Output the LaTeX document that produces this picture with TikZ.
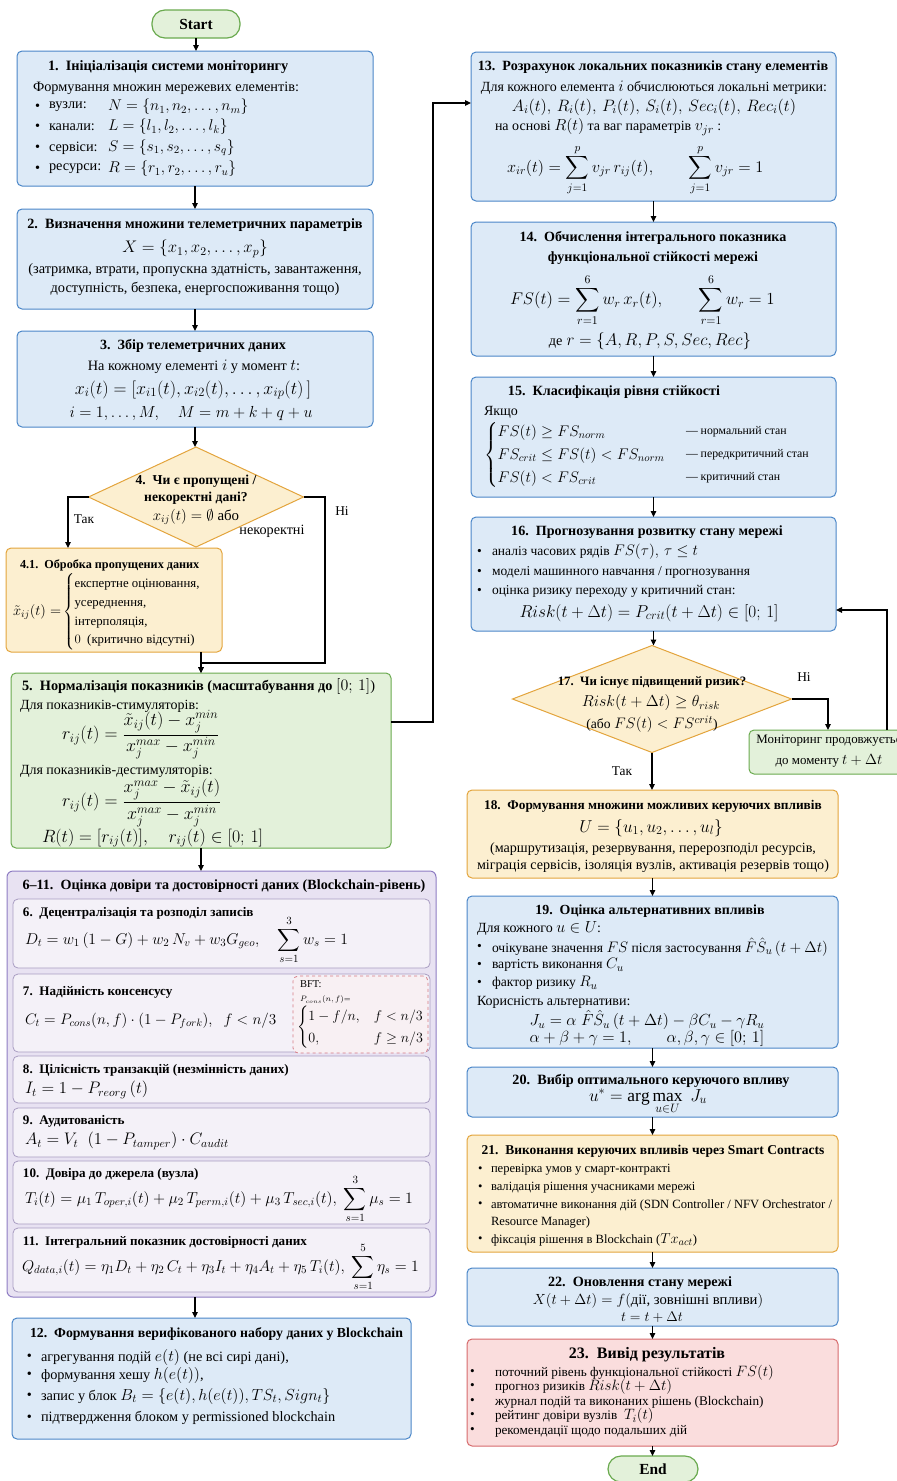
\RequirePackage{fix-cm}
\documentclass[tikz,border=0pt]{standalone}
\usepackage{amsmath,amssymb}
\usepackage{fontspec}
\setmainfont{Liberation Serif}
\usetikzlibrary{shapes.geometric,arrows.meta}
\DeclareMathSizes{14.3}{16}{11.7}{9}
\DeclareMathSizes{14}{16}{11.7}{9}
\DeclareMathSizes{13.6}{15.2}{11.2}{8.5}
\DeclareMathSizes{13.5}{15.3}{11.2}{8.5}
\DeclareMathSizes{13.2}{15}{11}{8.3}
\DeclareMathSizes{12.9}{14.7}{10.8}{8.1}
\DeclareMathSizes{12.6}{14.4}{10.5}{8}
\definecolor{bluefill}{HTML}{DDEAF7}
\definecolor{blueline}{HTML}{4A86C8}
\definecolor{greenfill}{HTML}{E3F1DA}
\definecolor{greenline}{HTML}{6AAA4F}
\definecolor{orangefill}{HTML}{FCEFD0}
\definecolor{orangeline}{HTML}{E3A43C}
\definecolor{purplefill}{HTML}{E8E2F2}
\definecolor{purpleline}{HTML}{8E7CC3}
\definecolor{subfill}{HTML}{F4F1F8}
\definecolor{subline}{HTML}{A99DC2}
\definecolor{redfill}{HTML}{FADDDD}
\definecolor{redline}{HTML}{D66A6C}
\definecolor{bftfill}{HTML}{F8F0F3}
\definecolor{bftline}{HTML}{D67A84}
\newcommand\fs[1]{\fontsize{#1}{#1}\selectfont}
\newcommand\bul[5]{\node[txt,anchor=west,font=\fs{#5}] at (#1,#3) {•}; \node[txt,anchor=west,font=\fs{#5}] at (#2,#3) {#4};}
\begin{document}
\begin{tikzpicture}[x=1pt,y=-1pt,
  txt/.style={inner sep=0pt, outer sep=0pt, font=\fs{14}},
  ttl/.style={txt, font=\fs{14.1}\bfseries},
  sttl/.style={txt, font=\fs{13.1}\bfseries},
  boxbase/.style={draw, rounded corners=5pt, line width=1pt, inner sep=0pt, outer sep=0pt, anchor=north west},
  bluebox/.style={boxbase, draw=blueline, fill=bluefill},
  greenbox/.style={boxbase, draw=greenline, fill=greenfill},
  orangebox/.style={boxbase, draw=orangeline, fill=orangefill},
  redbox/.style={boxbase, draw=redline, fill=redfill},
  grpbox/.style={boxbase, rounded corners=6pt, draw=purpleline, fill=purplefill},
  subbox/.style={boxbase, draw=subline, fill=subfill, line width=0.8pt},
  bftbox/.style={boxbase, draw=bftline, fill=bftfill, dashed, line width=0.8pt},
  decis/.style={diamond, draw=orangeline, fill=orangefill, line width=1pt, inner sep=0pt, outer sep=0pt},
  term/.style={draw=greenline, fill=greenfill, line width=1.2pt, rounded corners=13pt, inner sep=0pt, outer sep=0pt, font=\fs{15.4}\bfseries},
  arr/.style={-{Triangle[length=6pt,width=5.5pt]}, line width=1.1pt, black}
]
\useasboundingbox (0,0) rectangle (897,1481);

% ---------- Start ----------
\node[term, minimum width=88pt, minimum height=28pt] (start) at (196,24) {Start};

% ---------- Box 1 ----------
\node[bluebox, minimum width=356pt, minimum height=135pt] (b1) at (17,51) {};
\node[ttl,anchor=west,font=\fs{14.3}\bfseries] at (48,67) {1.\enspace Ініціалізація системи моніторингу};
\node[txt,anchor=west,font=\fs{14.3}] at (33,88) {Формування множин мережевих елементів:};
\bul{35}{49}{107}{вузли:}{14.3}   \node[txt,anchor=west,font=\fs{15.6}] at (108,107) {$N=\{n_1,n_2,\dots,n_m\}$};
\bul{35}{49}{127}{канали:}{14.3}  \node[txt,anchor=west,font=\fs{15.6}] at (108,127) {$L=\{l_1,l_2,\dots,l_k\}$};
\bul{35}{49}{148}{сервіси:}{14.3} \node[txt,anchor=west,font=\fs{15.6}] at (108,148) {$S=\{s_1,s_2,\dots,s_q\}$};
\bul{35}{49}{169}{ресурси:}{14.3} \node[txt,anchor=west,font=\fs{15.6}] at (108,169) {$R=\{r_1,r_2,\dots,r_u\}$};

% ---------- Box 2 ----------
\node[bluebox, minimum width=356pt, minimum height=100pt] (b2) at (17,209) {};
\node[ttl,font=\fs{14.2}\bfseries] at (195,225) {2.\enspace Визначення множини телеметричних параметрів};
\node[txt,font=\fs{16.8}] at (195,249) {$X=\{x_1,x_2,\dots,x_p\}$};
\node[txt,font=\fs{14.4}] at (195,270) {(затримка, втрати, пропускна здатність, завантаження,};
\node[txt,font=\fs{14.4}] at (195,289) {доступність, безпека, енергоспоживання тощо)};

% ---------- Box 3 ----------
\node[bluebox, minimum width=356pt, minimum height=96pt] (b3) at (17,331) {};
\node[ttl] at (193,346) {3.\enspace Збір телеметричних даних};
\node[txt,font=\fs{14.3}] at (194,367) {На кожному елементі $i$ у момент $t$:};
\node[txt,font=\fs{18}] at (193,390) {$x_i(t)=[x_{i1}(t),x_{i2}(t),\dots,x_{ip}(t)\,]$};
\node[txt,font=\fs{16}] at (191,413) {$i=1,\dots,M,\quad M=m+k+q+u$};

% ---------- Decision 4 ----------
\node[decis, minimum width=215pt, minimum height=100pt] (d4) at (196,497) {};
\node[sttl,font=\fs{13.6}\bfseries] at (196,481) {4.\enspace Чи є пропущені /};
\node[sttl,font=\fs{13.6}\bfseries] at (196,498) {некоректні дані?};
\node[txt,font=\fs{14.9}] at (196,517) {$x_{ij}(t)=\emptyset$ або};
\node[txt,font=\fs{14.2}] at (272,531) {некоректні};
\node[txt,font=\fs{13.4}] at (84,519) {Так};
\node[txt,font=\fs{13.4}] at (342,511) {Ні};

% ---------- Box 4.1 ----------
\node[orangebox, minimum width=216pt, minimum height=104pt] (b41) at (6,548) {};
\node[sttl,anchor=west,font=\fs{12.2}\bfseries] at (20,565) {4.1.\enspace Обробка пропущених даних};
\node[txt,anchor=west,font=\fontsize{12.8}{15.5}\selectfont] at (13,612) {{\fs{14.5}$\tilde{x}_{ij}(t)=$}\,$\begin{cases}\text{експертне оцінювання,}\\ \text{усереднення,}\\ \text{інтерполяція,}\\ 0\ \ \text{(критично відсутні)}\end{cases}$};

% ---------- Box 5 ----------
\node[greenbox, minimum width=380pt, minimum height=175pt] (b5) at (11,673) {};
\node[ttl,anchor=west,font=\fs{14.3}\bfseries] at (22,686) {5.\enspace Нормалізація показників (масштабування до \mdseries$[0;\,1]$)};
\node[txt,anchor=west] at (20,706) {Для показників-стимуляторів:};
\node[txt,anchor=west,font=\fs{18}] at (62,735) {$r_{ij}(t)=\dfrac{\tilde{x}_{ij}(t)-x_j^{min}}{x_j^{max}-x_j^{min}}$};
\node[txt,anchor=west] at (20,771) {Для показників-дестимуляторів:};
\node[txt,anchor=west,font=\fs{18}] at (62,803) {$r_{ij}(t)=\dfrac{x_j^{max}-\tilde{x}_{ij}(t)}{x_j^{max}-x_j^{min}}$};
\node[txt,anchor=west,font=\fs{17.8}] at (42,838) {$R(t)=[r_{ij}(t)],\quad r_{ij}(t)\in[0;\,1]$};

% ---------- Blockchain group ----------
\node[grpbox, minimum width=429pt, minimum height=426pt] (grp) at (7,871) {};
\node[ttl] at (224,886) {6--11.\enspace Оцінка довіри та достовірності даних (Blockchain-рівень)};

\node[subbox, minimum width=417pt, minimum height=69pt] (s6) at (13,899) {};
\node[sttl,anchor=west] at (23,913) {6.\enspace Децентралізація та розподіл записів};
\node[txt,anchor=west,font=\fs{15.7}] at (25,940) {$D_t=w_1\,(1-G)+w_2\,N_v+w_3G_{geo},\quad \displaystyle\sum_{s=1}^{3}w_s=1$};

\node[subbox, minimum width=417pt, minimum height=78pt] (s7) at (13,974) {};
\node[sttl,anchor=west] at (23,992) {7.\enspace Надійність консенсусу};
\node[txt,anchor=west,font=\fs{15.2}] at (25,1021) {$C_t=P_{cons}(n,f)\cdot(1-P_{fork}),\;\; f<n/3$};
\node[bftbox, minimum width=135pt, minimum height=77pt] (bft) at (293,976) {};
\node[txt,anchor=west,font=\fs{10.5}] at (300,984) {BFT:};
\node[txt,anchor=west,font=\fs{7.8}] at (300,1000) {$P_{cons}(n,f){=}$};
\node[txt,anchor=west,font=\fontsize{14.1}{18}\selectfont] at (297,1027) {$\begin{cases}1-f/n, & f<n/3\\ 0, & f\ge n/3\end{cases}$};

\node[subbox, minimum width=417pt, minimum height=47pt] (s8) at (13,1056) {};
\node[sttl,anchor=west] at (23,1070) {8.\enspace Цілісність транзакцій (незмінність даних)};
\node[txt,anchor=west,font=\fs{16.7}] at (25,1090) {$I_t=1-P_{reorg}\,(t)$};

\node[subbox, minimum width=417pt, minimum height=49pt] (s9) at (13,1108) {};
\node[sttl,anchor=west] at (23,1121) {9.\enspace Аудитованість};
\node[txt,anchor=west,font=\fs{16.7}] at (25,1141) {$A_t=V_t\;\;(1-P_{tamper})\cdot C_{audit}$};

\node[subbox, minimum width=417pt, minimum height=63pt] (s10) at (13,1161) {};
\node[sttl,anchor=west] at (23,1174) {10.\enspace Довіра до джерела (вузла)};
\node[txt,anchor=west,font=\fs{15.8}] at (25,1199) {$T_i(t)=\mu_1\,T_{oper,i}(t)+\mu_2\,T_{perm,i}(t)+\mu_3\,T_{sec,i}(t),\;\displaystyle\sum_{s=1}^{3}\mu_s=1$};

\node[subbox, minimum width=417pt, minimum height=64pt] (s11) at (13,1228) {};
\node[sttl,anchor=west] at (23,1242) {11.\enspace Інтегральний показник достовірності даних};
\node[txt,anchor=west,font=\fs{15.7}] at (22,1267) {$Q_{data,i}(t)=\eta_1D_t+\eta_2\,C_t+\eta_3I_t+\eta_4A_t+\eta_5\,T_i(t),\;\displaystyle\sum_{s=1}^{5}\eta_s=1$};

% ---------- Box 12 ----------
\node[bluebox, minimum width=399pt, minimum height=121pt] (b12) at (12,1318) {};
\node[ttl,anchor=west,font=\fs{13.8}\bfseries] at (30,1334) {12.\enspace Формування верифікованого набору даних у Blockchain};
\bul{27}{41}{1357}{агрегування подій $e(t)$ (не всі сирі дані),}{14.3}
\bul{27}{41}{1375}{формування хешу $h(e(t))$,}{14.3}
\bul{27}{41}{1396}{запис у блок $B_t=\{e(t),h(e(t)),TS_t,Sign_t\}$}{14.3}
\bul{27}{41}{1418}{підтвердження блоком у permissioned blockchain}{14.3}

% ---------- Box 13 ----------
\node[bluebox, minimum width=365pt, minimum height=149pt] (b13) at (471,52) {};
\node[ttl] at (653,67) {13.\enspace Розрахунок локальних показників стану елементів};
\node[txt] at (654,88) {Для кожного елемента $i$ обчислюються локальні метрики:};
\node[txt,font=\fs{16.5}] at (654,107) {$A_i(t),\,R_i(t),\,P_i(t),\,S_i(t),\,Sec_i(t),\,Rec_i(t)$};
\node[txt,anchor=west] at (495,127) {на основі $R(t)$ та ваг параметрів $v_{jr}$ :};
\node[txt,anchor=west,font=\fs{16.3}] at (507,170) {$\displaystyle x_{ir}(t)=\sum_{j=1}^{p}v_{jr}\,r_{ij}(t),\qquad\sum_{j=1}^{p}v_{jr}=1$};

% ---------- Box 14 ----------
\node[bluebox, minimum width=365pt, minimum height=134pt] (b14) at (471,222) {};
\node[ttl] at (653,238) {14.\enspace Обчислення інтегрального показника};
\node[ttl] at (653,258) {функціональної стійкості мережі};
\node[txt,anchor=west,font=\fs{16.9}] at (510,300) {$\displaystyle FS(t)=\sum_{r=1}^{6}w_r\,x_r(t),\qquad\sum_{r=1}^{6}w_r=1$};
\node[txt,font=\fs{17}] at (650,341) {{\fs{14.3}де} $r=\{A,R,P,S,Sec,Rec\}$};

% ---------- Box 15 ----------
\node[bluebox, minimum width=365pt, minimum height=120pt] (b15) at (471,377) {};
\node[ttl] at (614,392) {15.\enspace Класифікація рівня стійкості};
\node[txt,anchor=west] at (484,412) {Якщо};
\node[txt,anchor=west,font=\fontsize{15.4}{16}\selectfont] at (484,455) {$\renewcommand{\arraystretch}{1.44}\left\{\begin{array}{@{}l@{}}FS(t)\ge FS_{norm}\\ FS_{crit}\le FS(t)<FS_{norm}\\ FS(t)<FS_{crit}\end{array}\right.$};
\node[txt,anchor=west,font=\fs{11.8}] at (686,432) {— нормальний стан};
\node[txt,anchor=west,font=\fs{11.8}] at (686,455) {— передкритичний стан};
\node[txt,anchor=west,font=\fs{11.8}] at (686,478) {— критичний стан};

% ---------- Box 16 ----------
\node[bluebox, minimum width=365pt, minimum height=114pt] (b16) at (471,517) {};
\node[ttl] at (647,532) {16.\enspace Прогнозування розвитку стану мережі};
\bul{477}{492}{552}{аналіз часових рядів $FS(\tau),\,\tau\le t$}{13.5}
\bul{477}{492}{572}{моделі машинного навчання / прогнозування}{13.5}
\bul{477}{492}{591}{оцінка ризику переходу у критичний стан:}{13.5}
\node[txt,font=\fs{17.2}] at (649,613) {$Risk(t+\Delta t)=P_{crit}(t+\Delta t)\in[0;\,1]$};

% ---------- Decision 17 ----------
\node[decis, minimum width=279pt, minimum height=107pt] (d17) at (652,699) {};
\node[sttl,font=\fs{12.8}\bfseries] at (652,682) {17.\enspace Чи існує підвищений ризик?};
\node[txt,font=\fs{15.9}] at (651,703) {$Risk(t+\Delta t)\ge\theta_{risk}$};
\node[txt,font=\fs{13.6}] at (652,724) {(або $FS(t)<FS^{crit}$)};
\node[txt,font=\fs{13.4}] at (804,677) {Ні};
\node[txt,font=\fs{13.4}] at (622,771) {Так};

% ---------- Monitoring ----------
\node[greenbox, anchor=center, minimum width=164pt, minimum height=44pt] (mon) at (831,752) {};
\node[txt,font=\fs{12.9}] at (832,741) {Моніторинг продовжується};
\node[txt,font=\fs{12.9}] at (829,761) {до моменту $t+\Delta t$};

% ---------- Box 18 ----------
\node[orangebox, minimum width=371pt, minimum height=88pt] (b18) at (467,790) {};
\node[ttl,font=\fs{13.3}\bfseries] at (653,806) {18.\enspace Формування множини можливих керуючих впливів};
\node[txt,font=\fs{17.2}] at (651,828) {$U=\{u_1,u_2,\dots,u_l\}$};
\node[txt,font=\fs{14.1}] at (653,849) {(маршрутизація, резервування, перерозподіл ресурсів,};
\node[txt,font=\fs{14.1}] at (653,866) {міграція сервісів, ізоляція вузлів, активація резервів тощо)};

% ---------- Box 19 ----------
\node[bluebox, minimum width=371pt, minimum height=152pt] (b19) at (467,896) {};
\node[ttl,font=\fs{13.9}\bfseries] at (650,911) {19.\enspace Оцінка альтернативних впливів};
\node[txt,anchor=west] at (477,929) {Для кожного $u\in U$:};
\bul{477}{492}{947}{очікуване значення $FS$ після застосування $\hat{F}\hat{S}_u\,(t+\Delta t)$}{13.6}
\bul{477}{492}{965}{вартість виконання $C_u$}{13.6}
\bul{477}{492}{983}{фактор ризику $R_u$}{13.6}
\node[txt,anchor=west] at (477,1002) {Корисність альтернативи:};
\node[txt,font=\fs{16.1}] at (647,1020) {$J_u=\alpha\;\hat{F}\hat{S}_u\,(t+\Delta t)-\beta C_u-\gamma R_u$};
\node[txt,font=\fs{16.2}] at (647,1038) {$\alpha+\beta+\gamma=1,\qquad\alpha,\beta,\gamma\in[0;\,1]$};

% ---------- Box 20 ----------
\node[bluebox, minimum width=371pt, minimum height=50pt] (b20) at (467,1067) {};
\node[ttl,font=\fs{14.2}\bfseries] at (651,1081) {20.\enspace Вибір оптимального керуючого впливу};
\node[txt,font=\fs{17.4}] at (648,1102) {$u^*=\arg\max\limits_{u\in U}\;J_u$};

% ---------- Box 21 ----------
\node[orangebox, minimum width=371pt, minimum height=117pt] (b21) at (467,1135) {};
\node[ttl,font=\fs{13.5}\bfseries] at (653,1151) {21.\enspace Виконання керуючих впливів через Smart Contracts};
\bul{478}{491}{1170}{перевірка умов у смарт-контракті}{12.6}
\bul{478}{491}{1188}{валідація рішення учасниками мережі}{12.6}
\bul{478}{491}{1205}{автоматичне виконання дій (SDN Controller / NFV Orchestrator /}{12.6}
\node[txt,anchor=west,font=\fs{12.6}] at (491,1222) {Resource Manager)};
\bul{478}{491}{1240}{фіксація рішення в Blockchain ($Tx_{act}$)}{12.6}

% ---------- Box 22 ----------
\node[bluebox, minimum width=371pt, minimum height=58pt] (b22) at (467,1268) {};
\node[ttl,font=\fs{14.2}\bfseries] at (640,1283) {22.\enspace Оновлення стану мережі};
\node[txt,font=\fs{14.7}] at (648,1301) {$X(t+\Delta t)=f(\text{дії, зовнішні впливи})$};
\node[txt,font=\fs{14.05}] at (652,1317) {$t=t+\Delta t$};

% ---------- Box 23 ----------
\node[redbox, minimum width=371pt, minimum height=107pt] (b23) at (467,1339) {};
\node[ttl,font=\fs{16}\bfseries] at (647,1355) {23.\enspace Вивід результатів};
\bul{470}{495}{1373}{поточний рівень функціональної стійкості $FS(t)$}{13.2}
\bul{470}{495}{1387}{прогноз ризиків $Risk(t+\Delta t)$}{13.2}
\bul{470}{495}{1402}{журнал подій та виконаних рішень (Blockchain)}{13.2}
\bul{470}{495}{1416}{рейтинг довіри вузлів\ \ $T_i(t)$}{13.2}
\bul{470}{495}{1431}{рекомендації щодо подальших дій}{13.2}

% ---------- End ----------
\node[term, minimum width=90pt, minimum height=26pt] (end) at (653,1469) {End};

% ---------- Connectors ----------
\draw[arr] (start.south) -- (start.south |- b1.north);
\draw[arr] (b1.south) -- (b1.south |- b2.north);
\draw[arr] (b2.south) -- (b2.south |- b3.north);
\draw[arr] (b3.south) -- (b3.south |- d4.north);
\coordinate (yes4) at (68,548);
\draw[arr] (d4.west) -| (yes4);
\coordinate (no4) at (325,663);
\draw[arr] (d4.east) -| (no4) -| (b5.north);
\draw[arr] (b41.south -| b5.north) -- (b5.north);
\draw[arr] (b5.south) -- (b5.south |- grp.north);
\draw[arr] (b1.south |- grp.south) -- (b1.south |- b12.north);
\coordinate (up1) at (433,722);
\coordinate (up2) at (433,103);
\draw[arr] (b5.east |- up1) -- (up1) -- (up2) -- (b13.west |- up2);
\draw[arr] (b13.south) -- (b13.south |- b14.north);
\draw[arr] (b14.south) -- (b14.south |- b15.north);
\draw[arr] (b15.south) -- (b15.south |- b16.north);
\draw[arr] (b16.south) -- (b16.south |- d17.north);
\coordinate (mtop) at (828,730);
\draw[arr] (d17.east) -| (mtop);
\coordinate (lp) at (887,610);
\draw[arr] (mon.north -| lp) -- (lp) -- (b16.east |- lp);
\draw[arr] (d17.south) -- (d17.south |- b18.north);
\draw[arr] (b18.south) -- (b18.south |- b19.north);
\draw[arr] (b19.south) -- (b19.south |- b20.north);
\draw[arr] (b20.south) -- (b20.south |- b21.north);
\draw[arr] (b21.south) -- (b21.south |- b22.north);
\draw[arr] (b22.south) -- (b22.south |- b23.north);
\draw[arr] (b23.south) -- (b23.south |- end.north);
\end{tikzpicture}
\end{document}
